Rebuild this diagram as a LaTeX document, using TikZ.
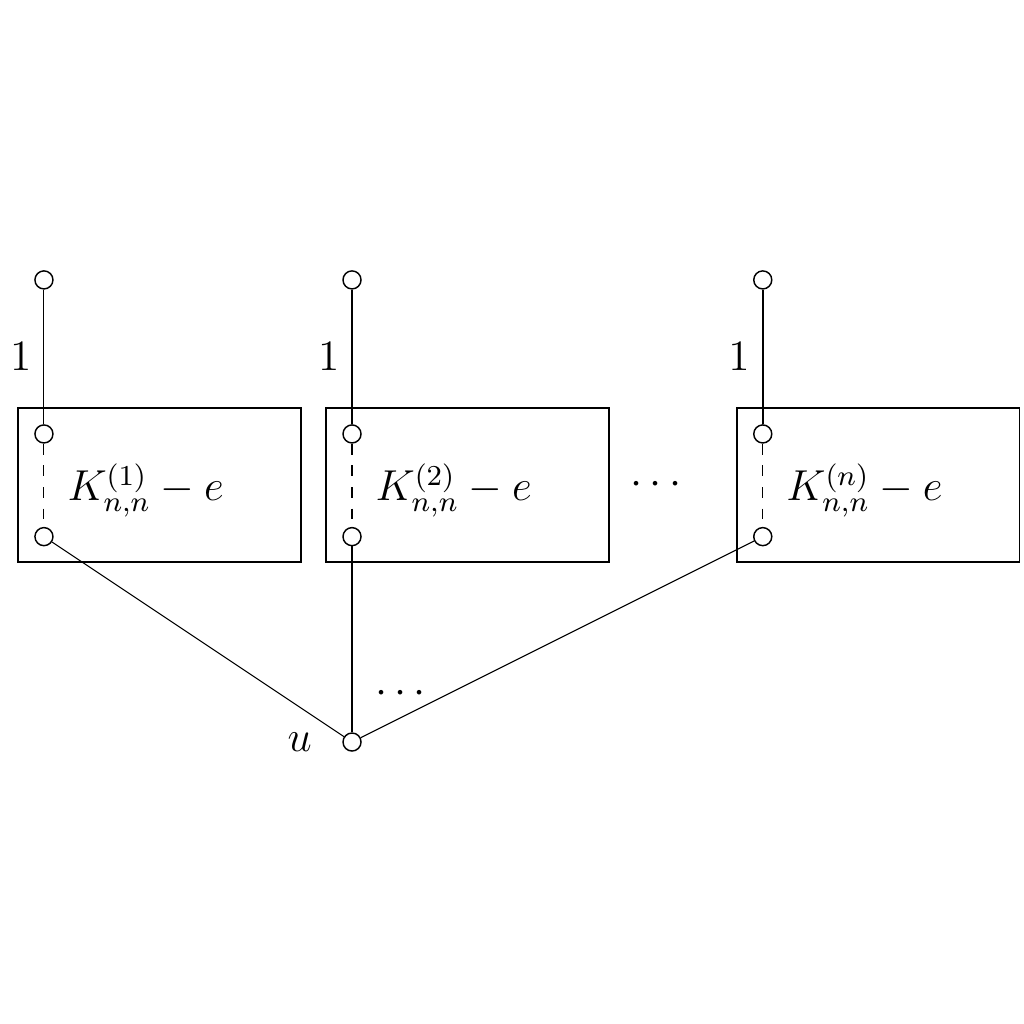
\documentclass[tikz,border=0pt]{standalone}
\begin{document}
\begin{tikzpicture}[
  vtx/.style={circle,draw,fill=white,inner sep=0pt,minimum size=5pt,line width=0.4pt},
  boxk/.style={draw,line width=0.5pt},
  edge/.style={line width=0.3pt},
  lbl/.style={font=\large}
]
\useasboundingbox (-0.428,-2.746) rectangle (9.54,7.226);
% boxes
\draw[boxk] (-0.25,1.75) rectangle (2.5,3.25);
\draw[boxk] (2.75,1.75) rectangle (5.5,3.25);
\draw[boxk] (6.75,1.75) rectangle (9.5,3.25);
% vertices
\node[vtx] (t1) at (0,4.5) {};
\node[vtx] (a1) at (0,3) {};
\node[vtx] (b1) at (0,2) {};
\node[vtx] (t2) at (3,4.5) {};
\node[vtx] (a2) at (3,3) {};
\node[vtx] (b2) at (3,2) {};
\node[vtx] (t3) at (7,4.5) {};
\node[vtx] (a3) at (7,3) {};
\node[vtx] (b3) at (7,2) {};
\node[vtx] (u) at (3,0) {};
% edges
\draw[edge] (t1) -- node[left,lbl] {$1$} (a1);
\draw[edge] (t2) -- node[left,lbl] {$1$} (a2);
\draw[semithick] (t3) -- node[left,lbl] {$1$} (a3);
\draw[edge,dashed] (a1) -- (b1);
\draw[edge,dashed] (a2) -- (b2);
\draw[edge,dashed] (a3) -- (b3);
\draw[edge] (b1) -- (u);
\draw[edge] (b2) -- (u);
\draw[edge] (b3) -- (u);
% labels
\node[lbl] (k1) at (0.99,2.45) {$K^{(1)}_{n,n}-e$};
\node[lbl] (k2) at (3.99,2.45) {$K^{(2)}_{n,n}-e$};
\node[lbl] (k3) at (7.99,2.45) {$K^{(n)}_{n,n}-e$};
\node[lbl] (d1) at (5.96,2.5) {$\cdots$};
\node[lbl] (d2) at (3.47,0.47) {$\cdots$};
\node[lbl] (ul) at (2.49,0) {$u$};
\end{tikzpicture}
\end{document}
